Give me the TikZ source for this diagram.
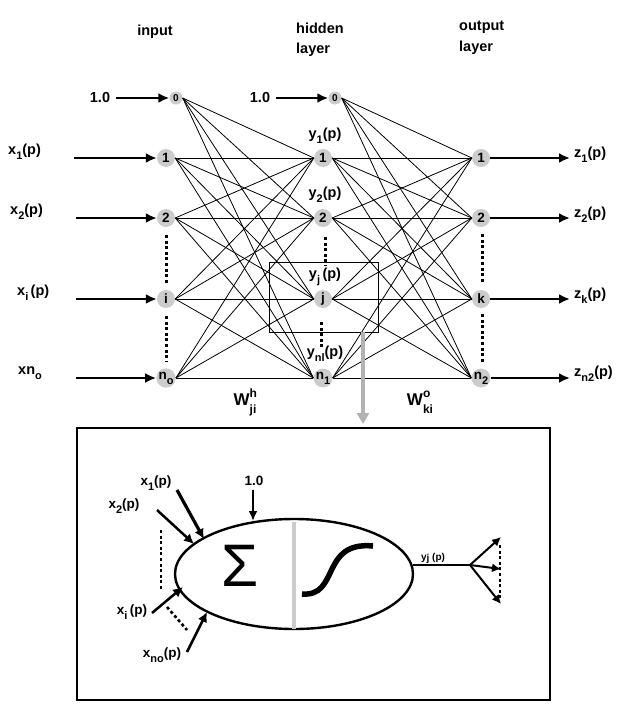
\documentclass[tikz,border=0pt]{standalone}
\usepackage{fontspec}
\setmainfont{Liberation Sans}
\usetikzlibrary{arrows.meta,shapes.geometric}
\newcommand\lbl[3]{#1\raisebox{-5pt}{\fontsize{11}{11}\selectfont #2}#3}
\newcommand\wlbl[3]{#1\makebox[0pt][l]{\raisebox{8pt}{\fontsize{12}{12}\selectfont #2}}\raisebox{-8pt}{\fontsize{12}{12}\selectfont #3}}
\definecolor{nodegray}{HTML}{CCCCCC}
\tikzset{
  neuron/.style={circle,fill=nodegray,inner sep=0pt,minimum size=18pt,font=\fontsize{13.5}{13.5}\selectfont\bfseries},
  biasnode/.style={circle,fill=nodegray,inner sep=0pt,minimum size=13pt,font=\fontsize{10}{10}\selectfont\bfseries},
  txt/.style={font=\fontsize{14.5}{14.5}\selectfont\bfseries,inner sep=0pt},
  smalltxt/.style={font=\fontsize{13.5}{13.5}\selectfont\bfseries,inner sep=0pt},
  conn/.style={line width=0.8pt},
  bigarrow/.style={line width=2.6pt,-{Latex[length=11pt,width=10pt]}},
  dots/.style={line width=3pt,dash pattern=on 3pt off 2.6pt},
}
\begin{document}
\begin{tikzpicture}[x=1pt,y=-1pt]
\useasboundingbox (0,0) rectangle (618,720);
% titles
\node[txt] (tin) at (155,32) {input};
\node[txt,anchor=west,align=left] (thid) at (296,40) {hidden\\[6pt]layer};
\node[txt,anchor=west,align=left] (tout) at (459,38) {output\\[6pt]layer};
% nodes
\node[biasnode] (I0) at (176,98) {0};
\node[neuron] (I1) at (166,158) {1};
\node[neuron] (I2) at (166,218) {2};
\node[neuron] (Ii) at (166,299) {i};
\node[neuron] (In) at (166,378) {\lbl{n}{o}{}};
\node[biasnode] (H0) at (335,98) {0};
\node[neuron] (H1) at (323,158) {1};
\node[neuron] (H2) at (323,218) {2};
\node[neuron] (Hj) at (323,299) {j};
\node[neuron] (Hn) at (323,378) {\lbl{n}{1}{}};
\node[neuron] (O1) at (481,158) {1};
\node[neuron] (O2) at (481,218) {2};
\node[neuron] (Ok) at (481,299) {k};
\node[neuron] (On) at (481,378) {\lbl{n}{2}{}};
% connections
\foreach \a in {I0,I1,I2,Ii,In}{
  \foreach \b in {H1,H2,Hj,Hn}{
    \draw[conn] (\a.east) -- (\b.west);
  }
}
\foreach \a in {H0,H1,H2,Hj,Hn}{
  \foreach \b in {O1,O2,Ok,On}{
    \draw[conn] (\a.east) -- (\b.west);
  }
}
% bias inputs
\node[txt] (b1) at (100,98) {1.0};
\node[txt] (b2) at (260,98) {1.0};
\draw[bigarrow] (b1.east) ++(6,0) coordinate (b1s) -- (I0.west);
\draw[bigarrow] (b2.east) ++(6,0) coordinate (b2s) -- (H0.west);
% input labels and arrows
\node[txt,anchor=west] (x1) at (8,152) {\lbl{x}{1}{(p)}};
\node[txt,anchor=west] (x2) at (10,212) {\lbl{x}{2}{(p)}};
\node[txt,anchor=west] (xi) at (17,293) {\lbl{x}{i}{\,(p)}};
\node[txt,anchor=west] (xn) at (18,373) {\lbl{xn}{o}{}};
\coordinate (s1) at (74,158);
\coordinate (s2) at (76,218);
\coordinate (si) at (76,299);
\coordinate (sn) at (76,378);
\draw[bigarrow] (s1) -- (I1.west);
\draw[bigarrow] (s2) -- (I2.west);
\draw[bigarrow] (si) -- (Ii.west);
\draw[bigarrow] (sn) -- (In.west);
% outputs
\coordinate (e1) at (570,158);
\coordinate (e2) at (570,218);
\coordinate (ek) at (570,299);
\coordinate (en) at (570,378);
\draw[bigarrow] (O1.east) -- (e1);
\draw[bigarrow] (O2.east) -- (e2);
\draw[bigarrow] (Ok.east) -- (ek);
\draw[bigarrow] (On.east) -- (en);
\node[txt,anchor=west] (z1) at (574,155) {\lbl{z}{1}{(p)}};
\node[txt,anchor=west] (z2) at (574,215) {\lbl{z}{2}{(p)}};
\node[txt,anchor=west] (zk) at (574,296) {\lbl{z}{k}{(p)}};
\node[txt,anchor=west] (zn) at (574,374) {\lbl{z}{n2}{(p)}};
% hidden labels
\node[txt] (y1) at (325,136) {\lbl{y}{1}{(p)}};
\node[txt] (y2) at (325,195) {\lbl{y}{2}{(p)}};
\node[txt] (yj) at (325,277) {\lbl{y}{j}{\,(p)}};
\node[txt] (yn) at (325,354) {\lbl{y}{nl}{(p)}};
% dotted
\draw[dots] (166,235) -- (166,283);
\draw[dots] (166,316) -- (166,362);
\draw[dots] (325,237) -- (325,266);
\draw[dots] (321,322) -- (321,349);
\draw[dots] (482,234) -- (482,283);
\draw[dots] (482,314) -- (482,362);
% weights
\node[txt,font=\fontsize{17}{17}\selectfont\bfseries] (wh) at (245,402) {\wlbl{W}{h}{ji}};
\node[txt,font=\fontsize{17}{17}\selectfont\bfseries] (wo) at (420,402) {\wlbl{W}{o}{ki}};
% zoom box
\draw[line width=1pt] (269,262) rectangle (378,332);
\coordinate (zs) at (363,332);
\coordinate (ze) at (363,424);
\draw[line width=3.2pt,gray!60,-{Triangle[length=11pt,width=12pt]}] (zs) -- (ze);
% lower box
\draw[line width=1.1pt] (77,428) rectangle (550,700);
\node[draw,ellipse,minimum width=238pt,minimum height=110pt,line width=2.4pt,inner sep=0pt] (ell) at (294,574) {};
\draw[line width=3.4pt,gray!40] (294,521.5) -- (294,628.5);
\node[inner sep=0pt,font=\fontsize{60}{60}\selectfont] (sig) at (240,566) {Σ};
\draw[line width=5.5pt] (302,594) .. controls (340,597) and (320,541) .. (373,546);
% neuron inputs
\node[smalltxt] (nx1) at (156,483) {\lbl{x}{1}{(p)}};
\node[smalltxt] (nx2) at (124,506) {\lbl{x}{2}{(p)}};
\node[smalltxt] (nb) at (254,481) {1.0};
\node[smalltxt] (nxi) at (132,612) {\lbl{x}{i}{\,(p)}};
\node[smalltxt] (nxn) at (162,655) {\lbl{x}{no}{(p)}};
\coordinate (a1s) at (177,490); \coordinate (a1e) at (204,539);
\coordinate (a2s) at (157,510); \coordinate (a2e) at (194,544);
\coordinate (abs) at (253,490); \coordinate (abe) at (253,521);
\coordinate (ais) at (152,613); \coordinate (aie) at (183,587);
\coordinate (ans) at (187,652); \coordinate (ane) at (207,612);
\draw[line width=3.2pt,-{Latex[length=10pt,width=10pt]}] (a1s) -- (a1e);
\draw[line width=2.5pt,-{Latex[length=10pt,width=10pt]}] (a2s) -- (a2e);
\draw[line width=2.2pt,-{Latex[length=10pt,width=9pt]}] (abs) -- (abe);
\draw[line width=2.5pt,-{Latex[length=10pt,width=10pt]}] (ais) -- (aie);
\draw[line width=2.5pt,-{Latex[length=10pt,width=10pt]}] (ans) -- (ane);
\draw[dots,line width=2.6pt] (161,530) -- (161,590);
\draw[dots,line width=2.6pt] (167,607) -- (187,630);
% neuron output
\coordinate (os) at (413,565);
\coordinate (ob) at (470,565);
\draw[line width=2.4pt] (os) -- (ob);
\coordinate (t1) at (501,537);
\coordinate (t2) at (501,569);
\coordinate (t3) at (501,604);
\draw[line width=2pt,-{Latex[length=9pt,width=9pt]}] (ob) -- (t1);
\draw[line width=2pt,-{Latex[length=9pt,width=9pt]}] (ob) -- (t2);
\draw[line width=2pt,-{Latex[length=9pt,width=9pt]}] (ob) -- (t3);
\draw[dots,line width=2.4pt] (500,545) -- (500,600);
\node[inner sep=0pt,font=\fontsize{10}{10}\selectfont\bfseries] (oy) at (433,558) {y\raisebox{-1pt}{j} (p)};
\end{tikzpicture}
\end{document}
